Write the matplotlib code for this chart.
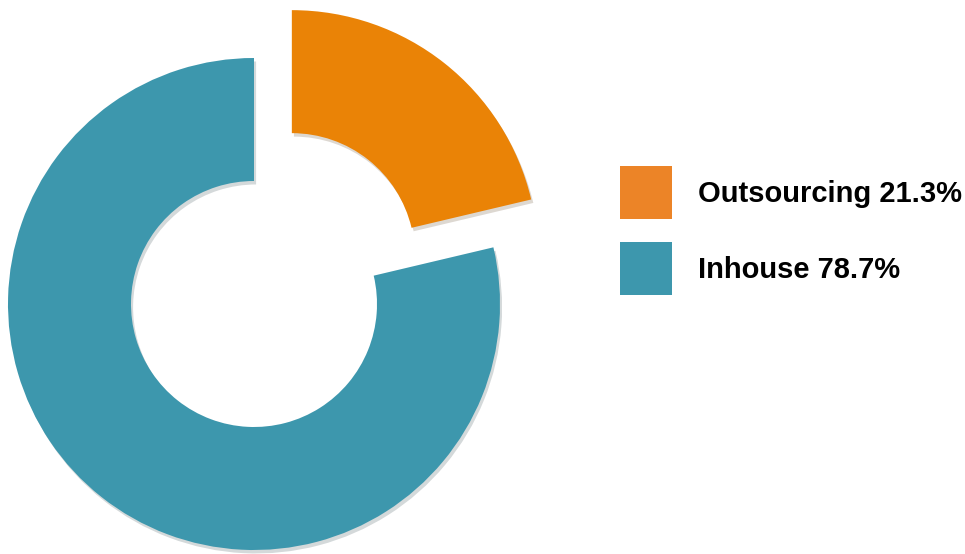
import matplotlib
matplotlib.use('Agg')
import matplotlib.pyplot as plt
import matplotlib.patheffects as pe
from matplotlib.patches import Rectangle

#######################################################################
#                                Data                                 #
#######################################################################
labels = ['Outsourcing', 'Inhouse']
shares = [21.3, 78.7]
explode = [0.248, 0.0]   # fraction of the radius
slice_colors = ['#EA8306', '#3D97AD']
legend_colors = ['#EC8427', '#3D97AD']

#######################################################################
#                                Plot                                 #
#######################################################################
W, H = 965, 554
R = 246
fig = plt.figure(figsize=(W / 100, H / 100), dpi=100)
# axes in pixel units, y pointing up
ax = fig.add_axes([0, 0, 1, 1])

# pie() does not scale explode by the radius, so do it here
wedges, _ = ax.pie(shares, explode=[e * R for e in explode],
                   colors=slice_colors, startangle=90, counterclock=False,
                   center=(254, H - 304), radius=R,
                   wedgeprops=dict(width=123, linewidth=0))
for w in wedges:
    w.set_path_effects([pe.SimplePatchShadow(offset=(1.5, -2.5), alpha=0.18),
                        pe.Normal()])

ax.set_xlim(0, W)
ax.set_ylim(0, H)
ax.set_aspect('auto')
ax.axis('off')

# legend boxes and labels
for i, (lab, val, col) in enumerate(zip(labels, shares, legend_colors)):
    top = 166 + i * 76
    ax.add_patch(Rectangle((620, H - top - 53), 52, 53, facecolor=col,
                           edgecolor='none'))
    ax.text(698, H - top - 27.5, '%s %.1f%%' % (lab, val), fontsize=21,
            fontweight='bold', family='Liberation Sans', va='center',
            ha='left', color='black')

fig.savefig('out.png', dpi=100, facecolor='white')
